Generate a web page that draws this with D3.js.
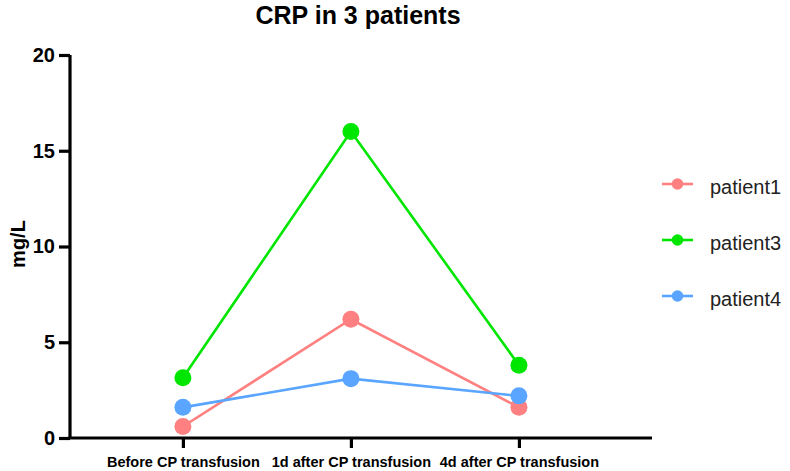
<!DOCTYPE html>
<html>
<head>
<meta charset="utf-8">
<script src="https://cdn.jsdelivr.net/npm/d3@7"></script>
<style>
  body { margin: 0; background: #fff; }
  svg { font-family: "Liberation Sans", Arial, sans-serif; }
</style>
</head>
<body>
<div id="vis"></div>
<script>
// chart data
var categories = ["Before CP transfusion", "1d after CP transfusion", "4d after CP transfusion"];
var seriesNames = ["patient1", "patient3", "patient4"];
var patient1 = [0.6, 6.2, 1.6];
var patient3 = [3.15, 16.0, 3.8];
var patient4 = [1.6, 3.1, 2.2];
var yTicks = [0, 5, 10, 15, 20];
var colors = ["#ff8080", "#00e600", "#5aa5ff"];

var w = 790, h = 471;
var series = [patient1, patient3, patient4].map(function (vals, i) {
    return { name: seriesNames[i], values: vals, color: colors[i] };
});

var svg = d3.select("#vis").append("svg")
    .attr("width", w)
    .attr("height", h);

var x = d3.scalePoint()
    .domain(categories)
    .range([70, 652])
    .padding(0.732)
    .align(0.459);

var y = d3.scaleLinear()
    .domain([0, 20])
    .range([438, 55]);

// title
svg.append("text")
    .attr("x", 358)
    .attr("y", 24)
    .attr("text-anchor", "middle")
    .style("font-size", "25px")
    .style("font-weight", "bold")
    .text("CRP in 3 patients");

// y axis
var yAxis = svg.append("g")
    .attr("transform", "translate(70,0)")
    .call(d3.axisLeft(y).tickValues(yTicks).tickSize(11).tickPadding(4));
yAxis.select(".domain").attr("stroke-width", 3.2).attr("d", "M0,55V438");
yAxis.selectAll(".tick line").attr("stroke-width", 3.2);
yAxis.selectAll(".tick text")
    .style("font-size", "20px")
    .style("font-weight", "bold")
    .attr("fill", "#000");

svg.append("text")
    .attr("transform", "translate(25,244)rotate(-90)")
    .attr("text-anchor", "middle")
    .style("font-size", "20px")
    .style("font-weight", "bold")
    .text("mg/L");

// x axis
var xAxis = svg.append("g")
    .attr("transform", "translate(0,438)")
    .call(d3.axisBottom(x).tickSize(10).tickPadding(9));
xAxis.select(".domain").attr("stroke-width", 3.2).attr("d", "M68.4,0H652");
xAxis.selectAll(".tick line").attr("stroke-width", 3.2);
xAxis.selectAll(".tick text")
    .style("font-size", "14.5px")
    .style("font-weight", "bold")
    .attr("fill", "#000");

// lines and points
var line = d3.line()
    .x(function (d, i) { return x(categories[i]); })
    .y(function (d) { return y(d); });

var g = svg.selectAll(".series")
    .data(series)
    .enter().append("g")
    .attr("class", "series");

g.append("path")
    .attr("d", function (d) { return line(d.values); })
    .attr("fill", "none")
    .attr("stroke", function (d) { return d.color; })
    .attr("stroke-width", 2.6);

g.selectAll("circle")
    .data(function (d) { return d.values.map(function (v, i) { return { v: v, i: i, color: d.color }; }); })
    .enter().append("circle")
    .attr("cx", function (d) { return x(categories[d.i]); })
    .attr("cy", function (d) { return y(d.v); })
    .attr("r", 8.5)
    .attr("fill", function (d) { return d.color; });

// legend
var legend = svg.selectAll(".legend")
    .data(series)
    .enter().append("g")
    .attr("class", "legend")
    .attr("transform", function (d, i) { return "translate(0," + (184 + i * 56) + ")"; });

legend.append("line")
    .attr("x1", 662).attr("x2", 693)
    .attr("stroke", function (d) { return d.color; })
    .attr("stroke-width", 2.6);
legend.append("circle")
    .attr("cx", 677.5)
    .attr("r", 5.8)
    .attr("fill", function (d) { return d.color; });
legend.append("text")
    .attr("x", 710)
    .attr("y", 10)
    .style("font-size", "20px")
    .attr("fill", "#222")
    .text(function (d) { return d.name; });
</script>
</body>
</html>
